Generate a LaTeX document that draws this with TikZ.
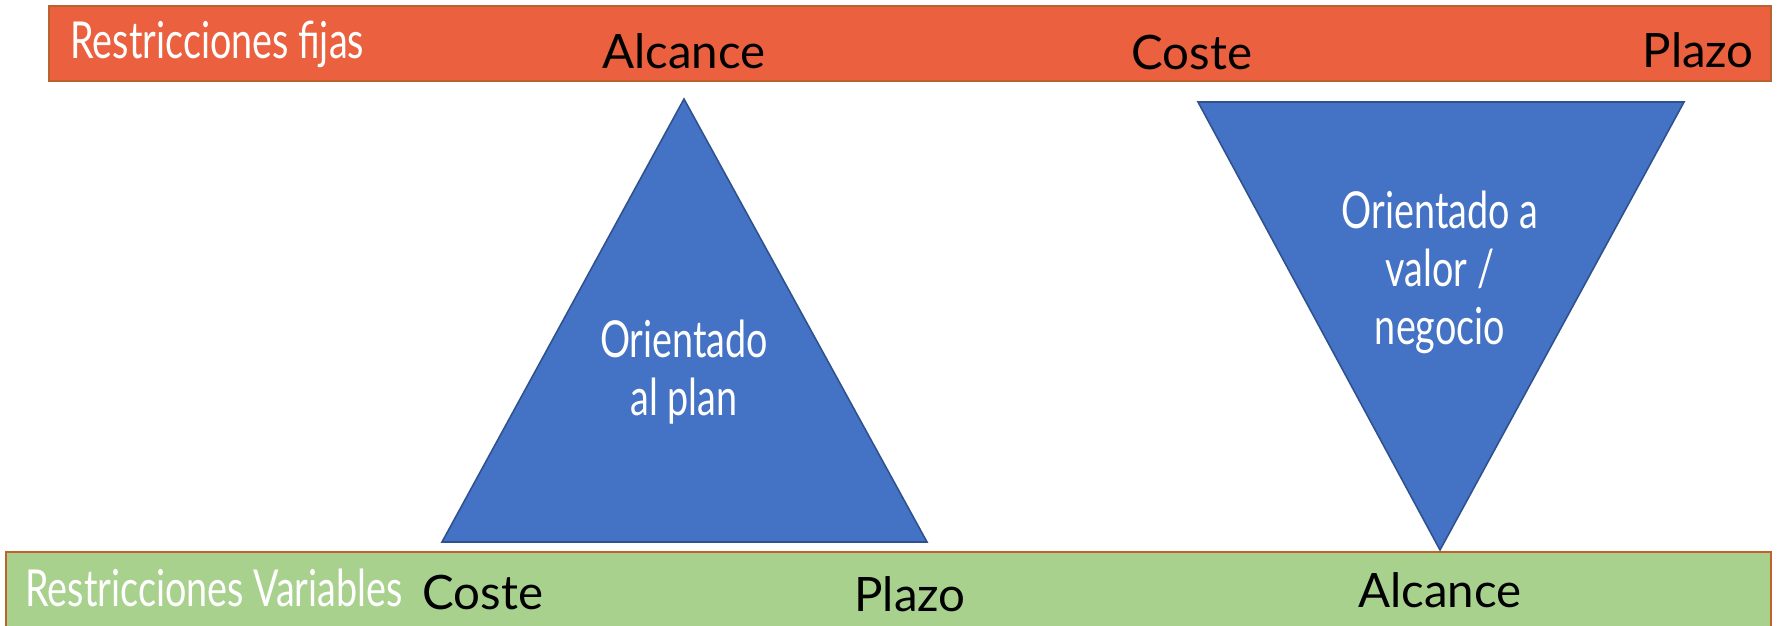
\documentclass[tikz,border=0pt]{standalone}
\usepackage{fontspec}
\setmainfont{Lato}
\newfontfamily\narrowfont[FakeStretch=0.74]{Lato}
\usetikzlibrary{calc}
\definecolor{fijo}{HTML}{EB603E}
\definecolor{fijoborde}{HTML}{B9622E}
\definecolor{variable}{HTML}{A9D18E}
\definecolor{variableborde}{HTML}{C0622A}
\definecolor{azul}{HTML}{4472C4}
\definecolor{azulborde}{HTML}{2F528F}
\tikzset{
	barra/.style={line width=1.2pt},
	tri/.style={fill=azul,draw=azulborde,line width=0.9pt,line join=miter},
	negro/.style={font=\fontsize{27}{32}\selectfont,text=black,inner sep=0pt},
	blanco/.style={font=\narrowfont\fontsize{29}{33}\selectfont,text=white,inner sep=0pt,align=center}
}
\begin{document}
\begin{tikzpicture}[x=0.02cm,y=-0.02cm]
		\useasboundingbox (0,0) rectangle (1777,625);
		\fill[white] (0,0) rectangle (1777,625);
		\clip (0,0) rectangle (1777,625);
		\draw[barra,fill=fijo,draw=fijoborde] (49,6) rectangle (1771,81);
		\draw[barra,fill=variable,draw=variableborde] (6,552) rectangle (1771,640);
		\coordinate (p1) at (684,99);
		\coordinate (p2) at (442,542);
		\coordinate (p3) at (927,542);
		\coordinate (v1) at (1198,102);
		\coordinate (v2) at (1684,102);
		\coordinate (v3) at (1440,550);
		\draw[tri] (p1) -- (p2) -- (p3) -- cycle;
		\draw[tri] (v1) -- (v2) -- (v3) -- cycle;
		\node[blanco,anchor=west] (fijas) at (70,44) {Restricciones fijas};
		\node[negro] (alc1) at (684,51) {Alcance};
		\node[negro] (cos1) at (1192,53) {Coste};
		\node[negro,anchor=east] (pla1) at (1754,50) {Plazo};
		\node[blanco,anchor=west] (vars) at (25,588) {Restricciones Variables};
		\node[negro] (cos2) at (483,592) {Coste};
		\node[negro] (pla2) at (910,594) {Plazo};
		\node[negro] (alc2) at (1440,590) {Alcance};
		\node[blanco] (plan) at (684,372) {Orientado\\al plan};
		\node[blanco] (valor) at (1440,272) {Orientado a\\valor /\\negocio};
\end{tikzpicture}
\end{document}
